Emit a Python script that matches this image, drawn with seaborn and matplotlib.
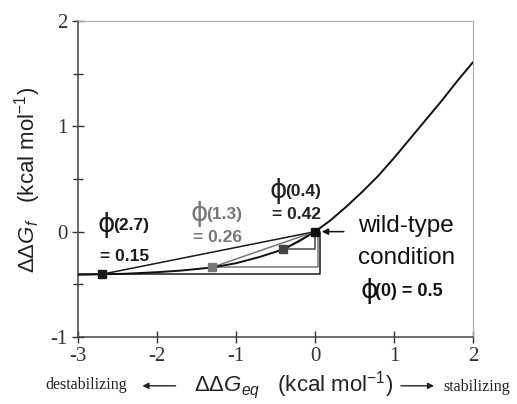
import numpy as np
import pandas as pd
import seaborn as sns
import matplotlib.pyplot as plt

# curve
curve_x = [-3.0, -2.7, -2.4, -2.0, -1.7, -1.3, -1.0, -0.7, -0.4, -0.2, 0.0,
           0.2, 0.4, 0.6, 0.8, 1.0, 1.2, 1.4, 1.6, 1.8, 2.0]
curve_y = [-0.41, -0.405, -0.40, -0.385, -0.37, -0.34, -0.30, -0.24, -0.168, -0.09, 0.0,
           0.11, 0.24, 0.38, 0.53, 0.70, 0.88, 1.06, 1.24, 1.43, 1.61]

# mutant points and their phi values
mut_x = [-2.7, -1.3, -0.4]
mut_y = [-0.405, -0.338, -0.168]
phi_labels = ["(2.7)", "(1.3)", "(0.4)"]
phi_values = ["= 0.15", "= 0.26", "= 0.42"]
mut_colors = ["#1a1a1a", "#777777", "#444444"]
wt_x, wt_y = 0.0, 0.0

sns.set_style("ticks")
plt.rcParams["font.family"] = ["Liberation Sans", "DejaVu Sans"]
plt.rcParams["mathtext.fontset"] = "custom"
plt.rcParams["mathtext.rm"] = "Liberation Sans"
plt.rcParams["mathtext.it"] = "Liberation Sans:italic"

fig = plt.figure(figsize=(5.17, 4.04), dpi=100)
ax = fig.add_axes([0.151, 0.166, 0.764, 0.782])

df = pd.DataFrame({"x": curve_x, "y": curve_y})
sns.lineplot(data=df, x="x", y="y", ax=ax, color="#111111", lw=1.4, zorder=3)

# chords to wild type and right-angle guides
offsets = [0.065, 0.035, 0.0]
for mx, my, c, off in zip(mut_x, mut_y, mut_colors, offsets):
    ax.plot([mx, wt_x], [my, wt_y], color=c, lw=1.1, zorder=2)
    ax.plot([mx, wt_x + off, wt_x + off], [my, my, wt_y], color=c, lw=1.1, zorder=2)
ax.plot([-3.0, mut_x[0]], [mut_y[0], mut_y[0]], color=mut_colors[0], lw=1.1)

pts = pd.DataFrame({"x": mut_x + [wt_x], "y": mut_y + [wt_y],
                    "c": mut_colors + ["#111111"]})
for _, r in pts.iterrows():
    ax.plot(r["x"], r["y"], marker="s", ms=5.5, color=r["c"], zorder=5)

# phi annotations
phi_pos = [(-2.76, 0.0), (-1.58, 0.1), (-0.58, 0.32)]
val_drop = [0.28, 0.2, 0.2]
for (tx, ty), lab, val, c, d in zip(phi_pos, phi_labels, phi_values, mut_colors, val_drop):
    col = c if c != "#444444" else "#222222"
    ax.text(tx, ty, "\u03d5", fontsize=19, color=col, family=["DejaVu Sans"],
            va="baseline")
    ax.text(tx + 0.2, ty + 0.02, lab, fontsize=12.5, fontweight="bold", color=col,
            va="baseline")
    ax.text(tx + 0.04, ty - d, val, fontsize=12.5, fontweight="bold", color=col,
            va="baseline")

ax.text(0.54, -0.31, "wild-type\ncondition", fontsize=17.5, color="#111111",
        va="baseline", linespacing=1.6)
ax.text(0.57, -0.63, "\u03d5", fontsize=19, family=["DejaVu Sans"],
        color="#111111", va="baseline")
ax.text(0.76, -0.61, "(0) = 0.5", fontsize=13, fontweight="bold",
        color="#111111", va="baseline")
ax.annotate("", xy=(0.05, 0.0), xytext=(0.4, 0.0),
            arrowprops=dict(arrowstyle="-|>", color="#111111", lw=1.1,
                            mutation_scale=9))

ax.set_xlim(-3, 2)
ax.set_ylim(-1, 2)
ax.set_xticks([-3, -2, -1, 0, 1, 2])
ax.set_yticks([-1, 0, 1, 2])
ax.set_yticks([-0.5, 0.5, 1.5], minor=True)
ax.set_xticklabels(["-3", "-2", "-1", "0", "1", "2"], family="Liberation Serif",
                   fontsize=15)
ax.set_yticklabels(["-1", "0", "1", "2"], family="Liberation Serif", fontsize=15)
ax.tick_params(axis="both", which="major", direction="inout", length=9,
               width=1.0, colors="#333333", pad=3)
ax.tick_params(axis="y", which="minor", direction="inout", length=7,
               width=1.0, color="#333333")
for s in ["left", "bottom"]:
    ax.spines[s].set_color("#444444")
    ax.spines[s].set_linewidth(1.1)
for s in ["top", "right"]:
    ax.spines[s].set_visible(True)
    ax.spines[s].set_color("#aaaaaa")
    ax.spines[s].set_linewidth(0.8)

ax.set_xlabel("")
ax.set_ylabel("")
fig.text(0.054, 0.554, r"$\Delta\Delta G_{f}$   (kcal mol$^{-1}$)", fontsize=16,
         color="#222222", rotation=90, ha="center", va="center")
fig.text(0.567, 0.032, r"$\Delta\Delta G_{eq}$   (kcal mol$^{-1}$)", fontsize=16,
         color="#222222", ha="center")
fig.text(0.087, 0.038, "destabilizing", family="Liberation Serif", fontsize=11.5,
         color="#222222")
fig.text(0.857, 0.032, "stabilizing", family="Liberation Serif", fontsize=11.5,
         color="#222222")
ax.annotate("", xy=(0.27, 0.045), xytext=(0.345, 0.045), xycoords="figure fraction",
            arrowprops=dict(arrowstyle="-|>", color="#222222", lw=1.0,
                            mutation_scale=9))
ax.annotate("", xy=(0.845, 0.045), xytext=(0.77, 0.045), xycoords="figure fraction",
            arrowprops=dict(arrowstyle="-|>", color="#222222", lw=1.0,
                            mutation_scale=9))

fig.savefig("out.png", dpi=100)
plt.close(fig)
